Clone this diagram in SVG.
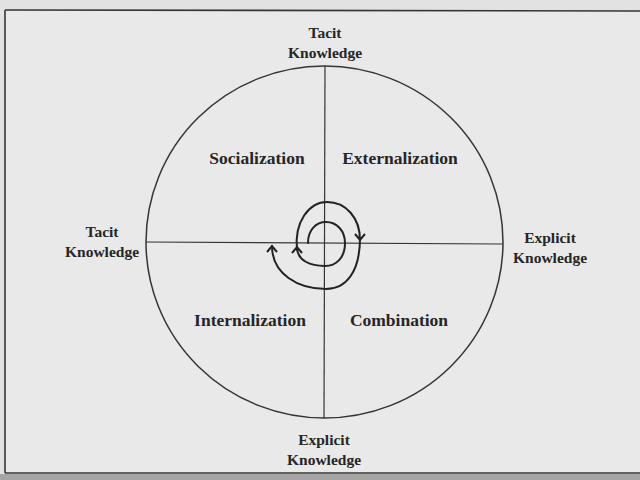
<svg xmlns="http://www.w3.org/2000/svg" width="640" height="480" viewBox="0 0 640 480">
  <defs>
    <style>
      .lbl { font-family: "Liberation Serif", "Times New Roman", serif; font-weight: bold; fill: #262626; text-anchor: middle; }
      .edge { font-size: 15.5px; }
      .quad { font-size: 17.5px; }
      .line { stroke: #353535; fill: none; }
      .spiral { stroke: #232323; stroke-width: 2; fill: none; stroke-linecap: round; }
    </style>
    <marker id="chev" markerUnits="userSpaceOnUse" markerWidth="14" markerHeight="14" refX="7" refY="7" orient="auto" viewBox="0 0 14 14">
      <path d="M1,2 L7,7 L1,12" fill="none" stroke="#232323" stroke-width="2" stroke-linejoin="miter"/>
    </marker>
  </defs>

  <!-- page background -->
  <rect x="0" y="0" width="640" height="480" fill="#e2e2e2"/>
  <rect x="0" y="474" width="640" height="6" fill="#a5a5a5"/>

  <!-- frame -->
  <g id="frame">
    <rect x="5" y="10" width="640" height="463" fill="#e9e9e9"/>
    <line class="line" x1="5" y1="10" x2="640" y2="11" stroke-width="1.6"/>
    <line class="line" x1="5" y1="10" x2="5" y2="473" stroke-width="1.6"/>
    <line class="line" x1="5" y1="473" x2="640" y2="473" stroke-width="1.6"/>
  </g>

  <!-- circle and axes -->
  <g id="circle">
    <ellipse class="line" cx="324.5" cy="242" rx="178.5" ry="176" stroke-width="1.5"/>
  </g>
  <g id="axes">
    <line class="line" x1="325" y1="66" x2="324" y2="418" stroke-width="1.2"/>
    <line class="line" x1="146" y1="242" x2="503" y2="244" stroke-width="1.2"/>
  </g>

  <!-- spiral connectors -->
  <g id="connectors">
    <path class="spiral" d="M 308 243 C 308 230, 316 222, 326 222 C 337 222, 345 231, 345 243 C 345 258, 336 266, 325 266 C 311 266, 297 261, 297 247" marker-end="url(#chev)"/>
    <path class="spiral" d="M 297 250 C 294 222, 309 202, 327 202 C 346 202, 360 218, 360 240" marker-end="url(#chev)"/>
    <path class="spiral" d="M 360 238 C 360 272, 346 289, 326 289 C 298 289, 272 274, 272 246" marker-end="url(#chev)"/>
  </g>

  <!-- labels -->
  <g id="top-tacit">
    <text class="lbl edge" x="325" y="38">Tacit</text>
    <text class="lbl edge" x="325" y="58">Knowledge</text>
  </g>
  <g id="left-tacit">
    <text class="lbl edge" x="102" y="237">Tacit</text>
    <text class="lbl edge" x="102" y="257">Knowledge</text>
  </g>
  <g id="right-explicit">
    <text class="lbl edge" x="550" y="243">Explicit</text>
    <text class="lbl edge" x="550" y="263">Knowledge</text>
  </g>
  <g id="bottom-explicit">
    <text class="lbl edge" x="324" y="445">Explicit</text>
    <text class="lbl edge" x="324" y="465">Knowledge</text>
  </g>
  <g id="socialization">
    <text class="lbl quad" x="257" y="164">Socialization</text>
  </g>
  <g id="externalization">
    <text class="lbl quad" x="400" y="164">Externalization</text>
  </g>
  <g id="internalization">
    <text class="lbl quad" x="250" y="326">Internalization</text>
  </g>
  <g id="combination">
    <text class="lbl quad" x="399" y="326">Combination</text>
  </g>
</svg>
